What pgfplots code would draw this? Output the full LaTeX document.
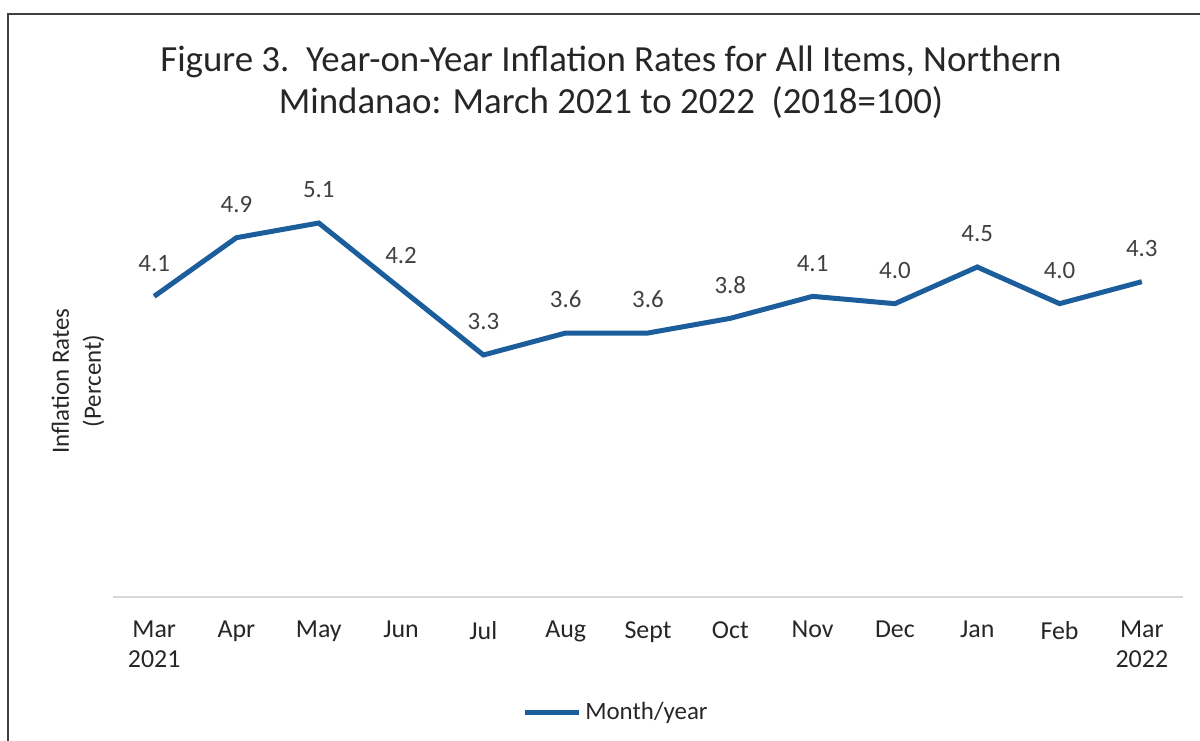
\documentclass[border=0pt]{standalone}
\usepackage{pgfplots}
\pgfplotsset{compat=1.18}
\usepackage{fontspec}
\setmainfont{Carlito}
\definecolor{lineblue}{HTML}{1C5E9C}
\definecolor{txt}{HTML}{262626}
\definecolor{lbl}{HTML}{404040}
\begin{document}
\begin{tikzpicture}
\path[use as bounding box] (0,0) rectangle (600bp,370.5bp);
\draw[color=black!75, line width=0.8bp] (4bp,-1bp) -- (4bp,363.5bp) -- (601bp,363.5bp);
\node[align=center, font=\fontsize{18.5}{21}\selectfont, text=txt] at (305.5bp,329.5bp) {Figure 3.\ \ Year-on-Year Inflation Rates for All Items, Northern\\Mindanao: March 2021 to 2022\ \ (2018=100)};
\node[rotate=90, align=center, font=\fontsize{12.5}{16}\selectfont, text=txt] at (39bp,180bp) {Inflation Rates\\(Percent)};
\begin{axis}[
  at={(56.5bp,72bp)}, anchor=south west,
  scale only axis, width=535bp, height=220bp,
  xmin=-0.5, xmax=12.5, ymin=0, ymax=6,
  axis x line=bottom, axis y line=none,
  x axis line style={draw=black!15, line width=0.8bp, -},
  xtick={0,...,12},
  xticklabels={{Mar\\2021},Apr,May,Jun,Jul,Aug,Sept,Oct,Nov,Dec,Jan,Feb,{Mar\\2022}},
  xtick style={draw=none},
  xticklabel style={align=center, font=\fontsize{13}{15}\selectfont, text=txt, anchor=north, yshift=-6.5bp},
  /pgf/number format/.cd, fixed, fixed zerofill, precision=1, assume math mode=true,
  /pgfplots/.cd,
  nodes near coords,
  every node near coord/.append style={font=\fontsize{12.5}{15}\selectfont, text=lbl, anchor=south, yshift=8bp},
  legend style={at={(0.471,-0.262)}, anchor=center, draw=none, fill=none, font=\fontsize{12.5}{15}\selectfont, text=txt, inner sep=0pt},
  legend image code/.code={\draw[#1, line width=2.5bp] (0bp,0bp) -- (27bp,0bp);},
]
\addplot[color=lineblue, line width=2.5bp, mark=none] coordinates {
(0,4.1) (1,4.9) (2,5.1) (3,4.2) (4,3.3) (5,3.6) (6,3.6) (7,3.8) (8,4.1) (9,4.0) (10,4.5) (11,4.0) (12,4.3)
};
\addlegendentry{Month/year}
\end{axis}
\end{tikzpicture}
\end{document}
